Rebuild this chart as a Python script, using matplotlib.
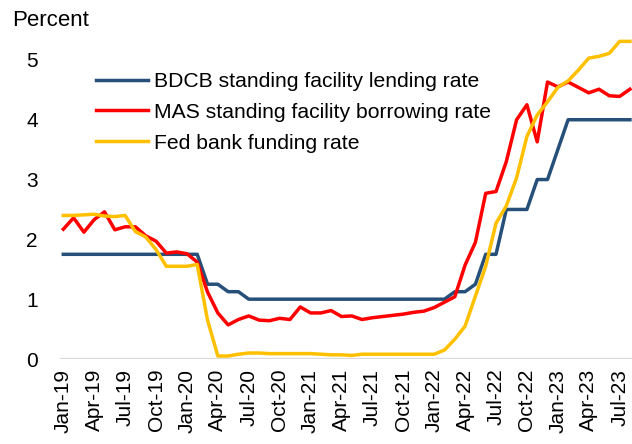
import matplotlib
matplotlib.use("Agg")
import matplotlib.pyplot as plt

plt.rcParams["font.family"] = ["Liberation Sans", "DejaVu Sans"]

# monthly, Jan-19 .. Aug-23
months = ["Jan", "Feb", "Mar", "Apr", "May", "Jun",
          "Jul", "Aug", "Sep", "Oct", "Nov", "Dec"]
dates = [m + "-" + str(y) for y in range(19, 24) for m in months][:56]

bdcb = [1.75] * 14 + [1.25, 1.25, 1.125, 1.125] + [1.0] * 20 + \
       [1.125, 1.125, 1.25, 1.75, 1.75, 2.5, 2.5, 2.5, 3.0, 3.0, 3.5,
        4.0, 4.0, 4.0, 4.0, 4.0, 4.0, 4.0]

mas = [2.17, 2.36, 2.12, 2.33, 2.46, 2.16, 2.21, 2.21, 2.06, 1.97,
       1.77, 1.79, 1.76, 1.62, 1.12, 0.77, 0.57, 0.66, 0.72, 0.65,
       0.64, 0.68, 0.66, 0.87, 0.77, 0.77, 0.81, 0.71, 0.72, 0.66,
       0.69, 0.71, 0.73, 0.75, 0.78, 0.80, 0.86, 0.95, 1.04, 1.57,
       1.95, 2.77, 2.80, 3.30, 4.00, 4.25, 3.63, 4.63, 4.55, 4.63,
       4.54, 4.45, 4.51, 4.40, 4.39, 4.51]

fed = [2.40, 2.40, 2.41, 2.42, 2.39, 2.38, 2.40, 2.13, 2.04, 1.83,
       1.55, 1.55, 1.55, 1.58, 0.65, 0.05, 0.05, 0.08, 0.10, 0.10,
       0.09, 0.09, 0.09, 0.09, 0.09, 0.08, 0.07, 0.07, 0.06, 0.08,
       0.08, 0.08, 0.08, 0.08, 0.08, 0.08, 0.08, 0.15, 0.33, 0.55,
       1.05, 1.55, 2.27, 2.56, 3.03, 3.72, 4.08, 4.30, 4.54, 4.65,
       4.83, 5.03, 5.06, 5.11, 5.31, 5.31]

labels = ["BDCB standing facility lending rate",
          "MAS standing facility borrowing rate",
          "Fed bank funding rate"]

x = list(range(len(dates)))

fig = plt.figure(figsize=(6.32, 4.44), dpi=100)
ax = fig.add_axes([60 / 632, 85 / 444, 572 / 632, 329 / 444])

ax.axhline(0, color="#d9d9d9", lw=1.6, zorder=1)
ax.plot(x, bdcb, color="#265079", lw=2.5, label=labels[0], zorder=3)
ax.plot(x, mas, color="#ff0000", lw=2.5, label=labels[1], zorder=4)
ax.plot(x, fed, color="#ffc000", lw=2.5, label=labels[2], zorder=5)

ax.set_xlim(-0.32, 55.2)
ax.set_ylim(0, 5.5)
ax.set_yticks([0, 1, 2, 3, 4, 5])
ax.set_xticks(x[::3])
ax.set_xticklabels(dates[::3], rotation=90, va="top", ha="center")
ax.tick_params(axis="both", length=0, labelsize=15)
ax.tick_params(axis="y", pad=16)
ax.tick_params(axis="x", pad=7)
for s in ax.spines.values():
    s.set_visible(False)

fig.text(12 / 632, 1 - 20 / 444, "Percent", fontsize=16, va="center", ha="left")

ax.legend(loc="upper left", bbox_to_anchor=(96 / 632, 1 - 72 / 444),
          bbox_transform=fig.transFigure, frameon=False, fontsize=15.2,
          handlelength=2.45, handletextpad=0.28, labelspacing=0.56,
          borderpad=0, borderaxespad=0)

fig.savefig("out.png", dpi=100)
